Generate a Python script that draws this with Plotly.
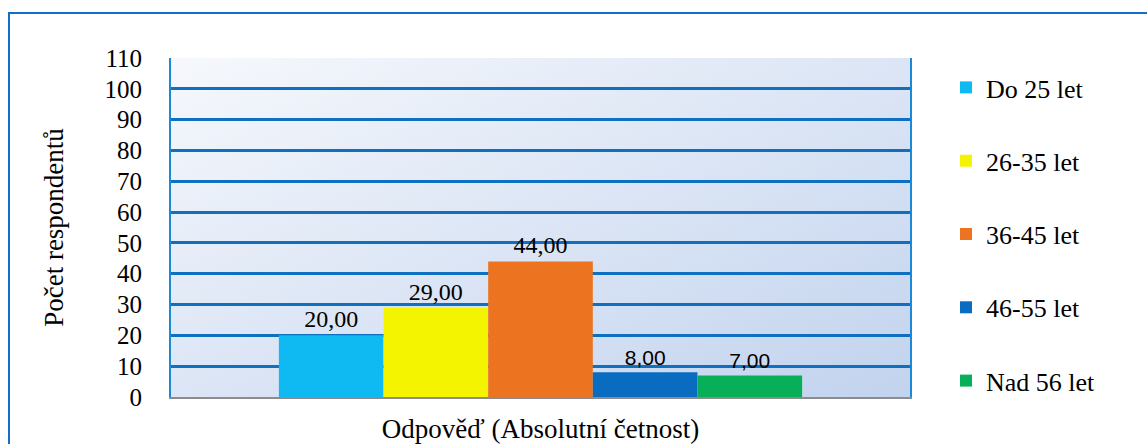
import base64
import plotly.graph_objects as go

categories = ["Odpověď (Absolutní četnost)"]
series_names = ["Do 25 let", "26-35 let", "36-45 let", "46-55 let", "Nad 56 let"]
series_values = [20, 29, 44, 8, 7]
series_colors = ["#0fbaf2", "#f4f400", "#ec7420", "#0a6cc0", "#07b058"]
SERIF = "'Liberation Serif', 'Times New Roman', Times, serif"
SANS = "'Liberation Sans', Arial, sans-serif"
label_fonts = [SERIF, SERIF, SERIF, SANS, SANS]
label_sizes = [24, 24, 24, 21, 21]
y_ticks = list(range(0, 111, 10))

fig = go.Figure()
for name, val, col, lf, ls in zip(series_names, series_values, series_colors, label_fonts, label_sizes):
    fig.add_trace(go.Bar(
        x=categories, y=[val], name=name, legendgroup=name,
        marker=dict(color=col, line=dict(width=0)),
        texttemplate="%{y:.2f}", textposition="outside", cliponaxis=False,
        textfont=dict(family=lf, size=ls, color="#000000"),
    ))

W, H = 1147, 444
L, R, T, B = 171, 910, 58, 397
pw, ph = R - L, B - T

def px(x):
    return (x - L) / pw

def py(y):
    return (B - y) / ph

svg = ('<svg xmlns="http://www.w3.org/2000/svg" width="100" height="100" preserveAspectRatio="none">'
       '<defs><linearGradient id="g" x1="0" y1="0" x2="1" y2="1">'
       '<stop offset="0" stop-color="#f6f8fc"/><stop offset="1" stop-color="#c2d3ee"/>'
       '</linearGradient></defs><rect width="100" height="100" fill="url(#g)"/></svg>')
bg_uri = "data:image/svg+xml;base64," + base64.b64encode(svg.encode()).decode()

fig.update_layout(
    width=W, height=H,
    margin=dict(l=L, r=W - R, t=T, b=H - B, autoexpand=False),
    paper_bgcolor="white",
    plot_bgcolor="#dce5f4",
    barmode="group", bargap=0.292, bargroupgap=0,
    separators=", ",
    font=dict(family=SERIF, size=20, color="#000000"),
    showlegend=True,
    legend=dict(x=px(946), xanchor="left", y=py(64), yanchor="top",
                font=dict(family=SERIF, size=26),
                tracegroupgap=36.5, bgcolor="rgba(0,0,0,0)", maxheight=440),
    xaxis=dict(showticklabels=False, ticks="", showgrid=False,
               showline=True, linecolor="#8c8c8c", linewidth=2,
               title=dict(text="Odpověď (Absolutní četnost)", standoff=24,
                          font=dict(family=SERIF, size=27))),
    yaxis=dict(range=[0, 110], tickvals=y_ticks, ticks="",
               tickfont=dict(family=SERIF, size=25),
               ticklabelstandoff=22,
               showgrid=True, gridcolor="#0f6fc0", gridwidth=2.5,
               zeroline=False,
               showline=True, mirror=True, linecolor="#1a8ad8", linewidth=2,
               title=dict(text="Počet respondentů", standoff=33,
                          font=dict(family=SERIF, size=27))),
    images=[dict(source=bg_uri, xref="paper", yref="paper", x=0, y=1,
                 sizex=1, sizey=1, xanchor="left", yanchor="top",
                 sizing="stretch", layer="below")],
    shapes=[dict(type="rect", xref="paper", yref="paper",
                 x0=px(9), x1=px(1152), y0=py(13), y1=py(452),
                 line=dict(color="#1070c8", width=2), layer="above")],
)

fig.write_html("out.html")
